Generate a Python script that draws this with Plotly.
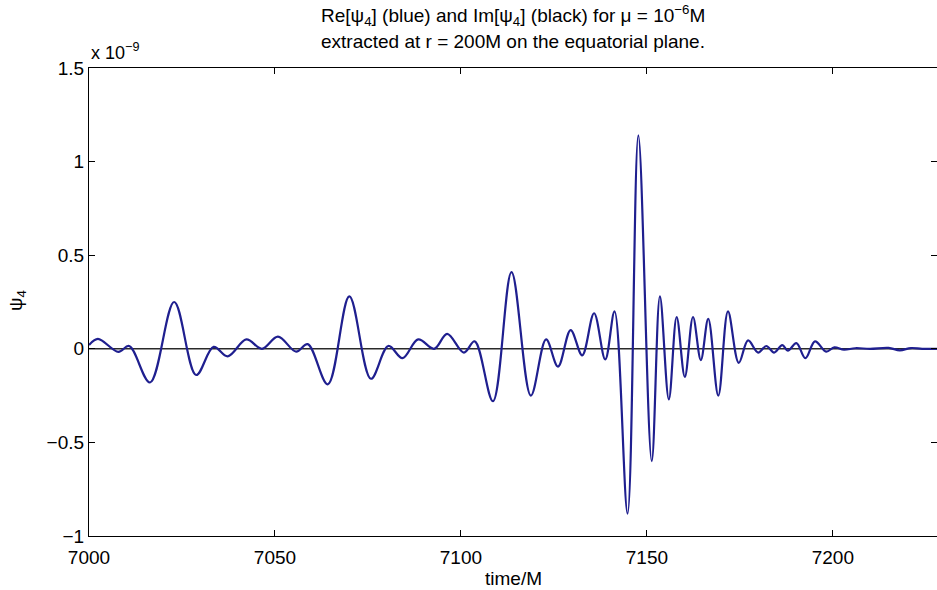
import plotly.graph_objects as go

# Re[psi4] (units of 1e-9)
re_time = [7000.0, 7002.4, 7007.9, 7010.8, 7016.4, 7022.9, 7028.8, 7033.5, 7037.3, 7042.3,
           7046.5, 7050.8, 7055.7, 7058.8, 7064.2, 7070.0, 7075.8, 7080.5, 7084.3, 7088.5,
           7092.8, 7096.3, 7100.8, 7103.7, 7108.6, 7113.6, 7118.8, 7122.9, 7126.1, 7129.5,
           7132.6, 7135.8, 7138.8, 7141.3, 7144.8, 7147.7, 7151.3, 7153.5, 7155.9, 7158.0,
           7160.2, 7162.4, 7164.5, 7166.5, 7169.2, 7171.8, 7174.7, 7177.2, 7179.9, 7182.1,
           7184.2, 7186.4, 7187.9, 7190.2, 7192.6, 7195.2, 7198.2, 7200.4, 7203.0, 7206.0,
           7210.0, 7215.0, 7218.0, 7221.0, 7224.0, 7228.0]
re_psi4 = [0.02, 0.053, -0.016, 0.015, -0.18, 0.25, -0.14, 0.01, -0.04, 0.05,
           0.0, 0.065, -0.015, 0.025, -0.19, 0.28, -0.16, 0.015, -0.05, 0.05,
           0.0, 0.08, -0.02, 0.04, -0.28, 0.41, -0.25, 0.05, -0.095, 0.10,
           -0.035, 0.19, -0.057, 0.20, -0.88, 1.14, -0.60, 0.28, -0.27, 0.17,
           -0.15, 0.17, -0.06, 0.16, -0.25, 0.20, -0.075, 0.045, -0.02, 0.015,
           -0.02, 0.02, -0.01, 0.03, -0.05, 0.04, -0.015, 0.008, -0.005, 0.003,
           0.0, 0.005, -0.008, 0.004, 0.0, 0.0]

# Im[psi4] essentially zero on this scale
im_time = [7000.0, 7228.0]
im_psi4 = [0.0, 0.0]

x_ticks = [7000, 7050, 7100, 7150, 7200]
y_ticks = [-1, -0.5, 0, 0.5, 1, 1.5]
y_tick_text = ["\u22121", "\u22120.5", "0", "0.5", "1", "1.5"]

FONT = "Liberation Sans, Arial, Helvetica, sans-serif"

fig = go.Figure()
fig.add_trace(go.Scatter(x=im_time, y=im_psi4, mode="lines",
                         line=dict(color="#2a2a2a", width=1.5), hoverinfo="skip"))
fig.add_trace(go.Scatter(x=re_time, y=re_psi4, mode="lines",
                         line=dict(color="#1f1f8f", width=2.2, shape="spline", smoothing=1.0)))

fig.update_layout(
    width=937, height=590,
    margin=dict(l=89, r=0, t=68, b=54),
    paper_bgcolor="white", plot_bgcolor="white",
    showlegend=False,
    font=dict(family=FONT, size=19, color="black"),
)
fig.update_xaxes(range=[7000, 7228], tickvals=x_ticks, ticks="inside", ticklen=6,
                 tickcolor="black", showline=True, linecolor="black", linewidth=1.3,
                 mirror="ticks", showgrid=False, zeroline=False, ticklabelstandoff=4,
                 tickfont=dict(family=FONT, size=19))
fig.update_yaxes(range=[-1, 1.5], tickvals=y_ticks, ticktext=y_tick_text, ticks="inside",
                 ticklen=6, tickcolor="black", showline=True, linecolor="black",
                 linewidth=1.3, mirror="ticks", showgrid=False, zeroline=False,
                 tickfont=dict(family=FONT, size=19))

annotations = [
    dict(text="Re[\u03c8<sub>4</sub>] (blue) and Im[\u03c8<sub>4</sub>] (black) for \u03bc = 10<sup>\u22126</sup>M",
         x=0.5, y=1.112, xanchor="center", yanchor="middle"),
    dict(text="extracted at r = 200M on the equatorial plane.",
         x=0.5, y=1.056, xanchor="center", yanchor="middle"),
    dict(text="x 10<sup>\u22129</sup>", x=0.0, y=1.036, xanchor="left", yanchor="middle",
         font=dict(family=FONT, size=18)),
    dict(text="\u03c8<sub>4</sub>", x=-0.085, y=0.504, textangle=-90,
         xanchor="center", yanchor="middle"),
    dict(text="time/M", x=0.5, y=-0.09, xanchor="center", yanchor="middle"),
]
for a in annotations:
    a.setdefault("font", dict(family=FONT, size=19))
    fig.add_annotation(xref="paper", yref="paper", showarrow=False, **a)

fig.write_html("out.html")
